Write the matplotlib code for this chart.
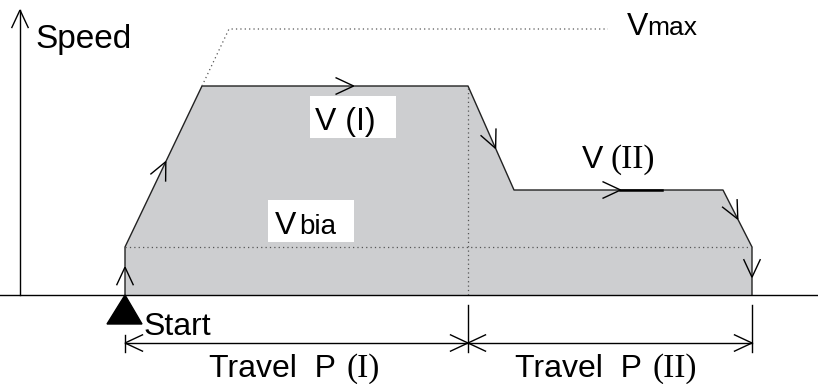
import numpy as np
import matplotlib
matplotlib.use("Agg")
import matplotlib.pyplot as plt
from matplotlib.patches import Rectangle

# speed profile (x = time, y = speed), units ~ pixels of the drawing
t_prof = [125, 125, 202, 468, 514, 723, 752, 752]
v_prof = [0, 48, 209, 209, 105, 105, 48, 0]

v_bia = 48
v_max = 266
t_vmax = [202, 229, 608]
v_vmax = [209, 266, 266]
t_split = 468

# chevrons on each segment of the profile: (segment index, fraction along it)
arrow_seg = [0, 1, 2, 3, 4, 5, 6]
arrow_frac = [0.58, 0.53, 0.57, 0.60, 0.51, 0.51, 0.63]

# travel dimension line
dim_y = -48
dim_x = [125, 468, 752]

GRAY = "#cdced0"
SANS = "Liberation Sans"
SERIF = "Liberation Serif"


def chevron(ax, x, y, dx, dy, size=20, half=25, lw=1.0):
    u = np.array([dx, dy], float)
    u /= np.hypot(*u)
    for s in (1, -1):
        a = np.radians(s * half)
        r = np.array([[np.cos(a), -np.sin(a)], [np.sin(a), np.cos(a)]]) @ u
        ax.plot([x, x - size * r[0]], [y, y - size * r[1]], color="black", lw=lw,
                solid_capstyle="butt")


fig = plt.figure(figsize=(8.18, 3.84), dpi=100)
ax = fig.add_axes([0, 0, 1, 1])
ax.set_xlim(0, 818)
ax.set_ylim(-89, 295)
ax.axis("off")

# shaded area and outline
ax.fill(t_prof, v_prof, color=GRAY, lw=0)
ax.plot(t_prof, v_prof, color="#222222", lw=1.0)

# dotted guides
dot = dict(color="#555555", lw=0.9, linestyle=(0, (1, 2.5)))
ax.plot([t_prof[1], t_prof[6]], [v_bia, v_bia], **dot)
ax.plot([t_split, t_split], [0, v_prof[3]], **dot)
ax.plot(t_vmax, v_vmax, **dot)

# axes
ax.plot([0, 818], [0, 0], color="black", lw=1.0)
ax.plot([20, 20], [0, 285], color="black", lw=1.0)
chevron(ax, 20, 285, 0, 1)

# direction chevrons
for seg, f in zip(arrow_seg, arrow_frac):
    x0, y0 = t_prof[seg], v_prof[seg]
    x1, y1 = t_prof[seg + 1], v_prof[seg + 1]
    chevron(ax, x0 + f * (x1 - x0), y0 + f * (y1 - y0), x1 - x0, y1 - y0)
ax.plot([620, 662], [105, 105], color="black", lw=1.8)

# start marker
ax.fill([t_prof[0] - 18, t_prof[0], t_prof[0] + 17], [-29, 0, -29], color="black")

# dimension lines
ax.plot([dim_x[0], dim_x[-1]], [dim_y, dim_y], color="black", lw=1.0)
ax.plot([dim_x[0], dim_x[0]], [-40, -57], color="black", lw=1.0)
for xx in dim_x[1:]:
    ax.plot([xx, xx], [-10, -57], color="black", lw=1.0)
chevron(ax, dim_x[0], dim_y, -1, 0)
chevron(ax, dim_x[1], dim_y, 1, 0)
chevron(ax, dim_x[1], dim_y, -1, 0)
chevron(ax, dim_x[2], dim_y, 1, 0)

# white label boxes
ax.add_patch(Rectangle((310, 157), 86, 42, facecolor="white", edgecolor="none"))
ax.add_patch(Rectangle((268, 53), 86, 42, facecolor="white", edgecolor="none"))

ax.text(35, 247, "Speed", fontsize=24, family=SANS, va="baseline")
ax.text(627, 260, "V", fontsize=23, family=SANS, va="baseline")
ax.text(647, 260, "max", fontsize=19, family=SANS, va="baseline")

ax.text(315, 165, "V (I)", fontsize=23, family=SANS, va="baseline")

ax.text(582, 127, "V", fontsize=23, family=SANS, va="baseline")
ax.text(610, 127, "(II)", fontsize=24, family=SERIF, va="baseline")

ax.text(275, 61, "V", fontsize=23, family=SANS, va="baseline")
ax.text(299, 61, "bia", fontsize=20, family=SANS, va="baseline")

ax.text(144, -40, "Start", fontsize=23, family=SANS, va="baseline")

ax.text(209, -82, "Travel  P", fontsize=23, family=SANS, va="baseline")
ax.text(346, -82, "(I)", fontsize=24, family=SERIF, va="baseline")
ax.text(515, -82, "Travel  P", fontsize=23, family=SANS, va="baseline")
ax.text(652, -82, "(II)", fontsize=24, family=SERIF, va="baseline")

fig.savefig("out.png", dpi=100)
